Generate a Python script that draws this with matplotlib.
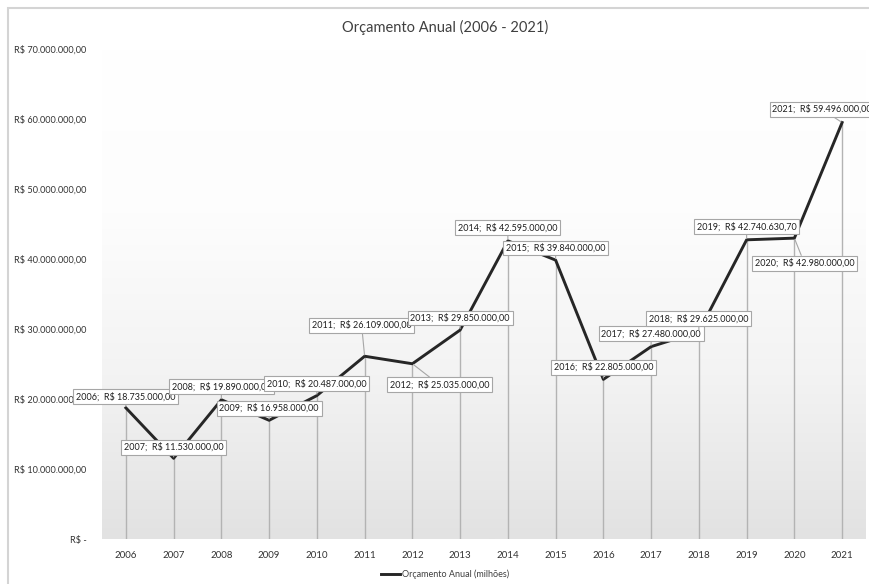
import numpy as np
import matplotlib.pyplot as plt
from matplotlib.patches import Rectangle
from matplotlib.colors import LinearSegmentedColormap

# orçamento anual por ano
anos = ['2006', '2007', '2008', '2009', '2010', '2011', '2012', '2013',
        '2014', '2015', '2016', '2017', '2018', '2019', '2020', '2021']
orcamento = [18735000.00, 11530000.00, 19890000.00, 16958000.00,
             20487000.00, 26109000.00, 25035000.00, 29850000.00,
             42595000.00, 39840000.00, 22805000.00, 27480000.00,
             29625000.00, 42740630.70, 42980000.00, 59496000.00]
yticks = [0, 10e6, 20e6, 30e6, 40e6, 50e6, 60e6, 70e6]

# deslocamento das caixas de rótulo (pixels)
offsets = [(0, 11), (0, 11), (0, 13), (0, 12), (0, 12), (-3, 31), (27, -21),
           (0, 12), (0, 13), (0, 12), (0, 12), (0, 13), (0, 13), (0, 13),
           (10, -25), (-20, 13)]


def reais(v):
    if v == 0:
        return 'R$ -'
    s = '{:,.2f}'.format(v)
    s = s.replace(',', 'X').replace('.', ',').replace('X', '.')
    return 'R$ ' + s


plt.rcParams['font.family'] = ['Lato', 'DejaVu Sans']

fig = plt.figure(figsize=(8.69, 5.84), dpi=100)
fig.patch.set_facecolor('white')

# moldura do gráfico
fig.patches.append(Rectangle((8 / 869, -0.1), 1.2, 1 - 8 / 584 + 0.1,
                             transform=fig.transFigure, fill=False,
                             edgecolor='#d4d4d4', lw=1.5))

ax = fig.add_axes([102 / 869, 1 - 539 / 584, 764 / 869, 490 / 584])
x = np.arange(len(anos))

# fundo em degradê
grad = np.linspace(0, 1, 256).reshape(-1, 1)
cmap = LinearSegmentedColormap.from_list(
    'g', ['#ffffff', '#fdfdfd', '#f3f3f3', '#e2e2e2'])
ax.imshow(grad, extent=[0, 1, 0, 1], transform=ax.transAxes, aspect='auto',
          cmap=cmap, origin='upper', zorder=0)

ax.set_xlim(-0.5, len(anos) - 0.5)
ax.set_ylim(0, 70e6)

# linhas de projeção
ax.vlines(x, 0, orcamento, colors='#b3b3b3', lw=1, zorder=1)
ax.plot(x, orcamento, color='#262626', lw=2.1, zorder=3,
        label='Orçamento Anual (milhões)')

for xi, v, a, off in zip(x, orcamento, anos, offsets):
    ax.annotate('{};  {}'.format(a, reais(v)), (xi, v), xytext=off,
                textcoords='offset pixels', ha='center', va='center',
                fontsize=6.5, color='#1f1f1f', zorder=5,
                bbox=dict(boxstyle='square,pad=0.3', fc='white',
                          ec='#a6a6a6', lw=0.8),
                arrowprops=dict(arrowstyle='-', color='#a6a6a6', lw=0.8,
                                shrinkA=0, shrinkB=1))

ax.set_xticks(x)
ax.set_xticklabels(anos)
ax.set_yticks(yticks)
ax.set_yticklabels([reais(v) for v in yticks])
ax.tick_params(axis='both', length=0, labelsize=7, colors='#333333')
ax.tick_params(axis='x', pad=9)
ax.tick_params(axis='y', labelsize=6.6, pad=11)
for s in ax.spines.values():
    s.set_visible(False)

fig.text(445 / 869, 1 - 27 / 584, 'Orçamento Anual (2006 - 2021)', ha='center',
         va='center', fontsize=10.5, color='#404040')

fig.legend(loc='center', bbox_to_anchor=(0.512, 1 - 574 / 584), frameon=False,
           fontsize=6.5, handlelength=2.2, handletextpad=0.2,
           labelcolor='#404040')

fig.savefig('out.png', dpi=100)
